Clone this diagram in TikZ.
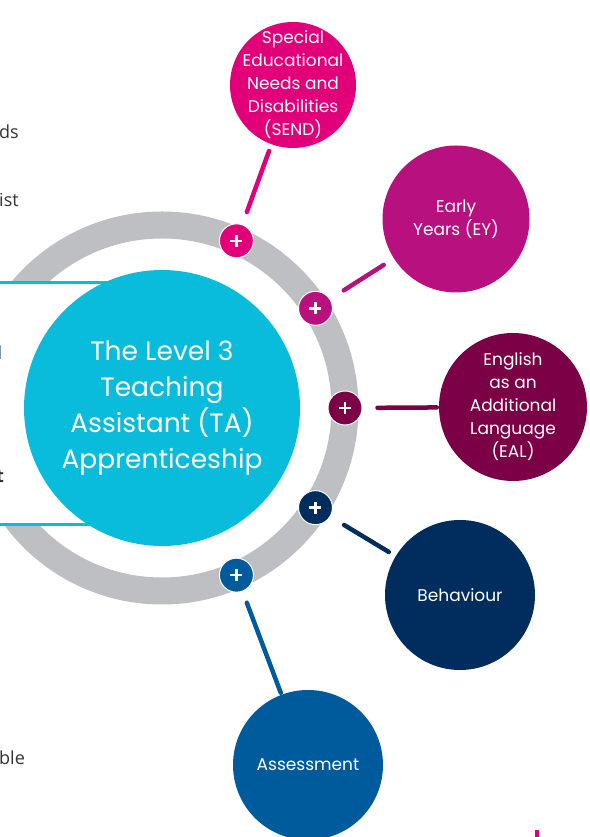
\documentclass[tikz,border=0pt]{standalone}
\usepackage{fontspec}
\setmainfont{Poppins}
\newfontfamily\sidefont{Open Sans}
\definecolor{hubcyan}{HTML}{09BCDB}
\definecolor{ringgrey}{HTML}{BDBFC2}
\definecolor{sendpink}{HTML}{E2007A}
\definecolor{eymagenta}{HTML}{B8117F}
\definecolor{ealmaroon}{HTML}{7B0046}
\definecolor{behavnavy}{HTML}{002D5E}
\definecolor{assessblue}{HTML}{005B9C}
\definecolor{sidegrey}{HTML}{333333}

\begin{document}
\begin{tikzpicture}[x=1pt, y=1pt,
    hub/.style={circle, fill=hubcyan, text=white, minimum size=276pt, align=center, inner sep=-10pt,
      font=\fontsize{26.5}{36}\selectfont},
    topic/.style={circle, fill=#1, text=white, align=center, inner sep=-20pt,
      font=\fontsize{17}{23}\selectfont},
    plusbtn/.style={circle, fill=#1, draw=white, line width=1pt, minimum size=34pt, inner sep=0pt,
      path picture={\draw[white, line width=2.6pt]
        ([xshift=-6pt]path picture bounding box.center) -- ([xshift=6pt]path picture bounding box.center)
        ([yshift=-6pt]path picture bounding box.center) -- ([yshift=6pt]path picture bounding box.center);}},
    link/.style={draw=#1, line width=4.5pt, line cap=round, shorten <=13pt, shorten >=7pt},
    sidetext/.style={anchor=base west, inner sep=0pt, text=sidegrey, font=\sidefont\fontsize{18}{20}\selectfont}]
  \useasboundingbox (0,0) rectangle (589,837);

  \node[sidetext] (frag1) at (-1,698) {ds};
  \node[sidetext] (frag2) at (-1,630) {ist};
  \node[sidetext] (frag5) at (-1,72) {ble};

  \coordinate (hubc) at (162,429);
  \draw[ringgrey, line width=27pt] (hubc) circle[radius=183];
  \draw[hubcyan, line width=3pt, fill=white] (-10,554) rectangle (200,312);
  \node[sidetext, text=behavnavy] (frag3) at (-2.5,477) {l};
  \node[sidetext, font=\sidefont\bfseries\fontsize{18}{20}\selectfont] (frag4) at (-4,354) {t};
  \node[hub] (hub) at (hubc) {The Level 3\\Teaching\\Assistant (TA)\\Apprenticeship};

  \node[plusbtn=sendpink] (psend) at ([shift={(66:183)}]hubc) {};
  \node[plusbtn=eymagenta] (pey) at ([shift={(33:183)}]hubc) {};
  \node[plusbtn=ealmaroon] (peal) at ([shift={(0:183)}]hubc) {};
  \node[plusbtn=behavnavy] (pbehav) at ([shift={(-33:183)}]hubc) {};
  \node[plusbtn=assessblue] (passess) at ([shift={(-66:183)}]hubc) {};

  \node[topic=sendpink, minimum size=126pt] (send) at (293,752) {Special\\Educational\\Needs and\\Disabilities\\(SEND)};
  \node[topic=eymagenta, minimum size=147pt] (ey) at (456,618) {Early\\Years (EY)};
  \node[topic=ealmaroon, minimum size=148pt] (eal) at (513,430) {English\\as an\\Additional\\Language\\(EAL)};
  \node[topic=behavnavy, minimum size=150pt] (behav) at (460,242) {Behaviour};
  \node[topic=assessblue, minimum size=150pt] (assess) at (308,72) {Assessment};

  \draw[link=sendpink] (psend) -- (send);
  \draw[link=eymagenta, shorten <=16pt, shorten >=12pt] (pey) -- (ey);
  \draw[link=ealmaroon, shorten <=15pt, shorten >=2pt] (peal) -- (eal);
  \draw[link=behavnavy, shorten <=16pt, shorten >=8pt] (pbehav) -- (behav);
  \draw[link=assessblue, shorten <=12pt, shorten >=2pt] (passess) -- (assess);

  \fill[sendpink] (535,0) rectangle (539,7);
\end{tikzpicture}
\end{document}
